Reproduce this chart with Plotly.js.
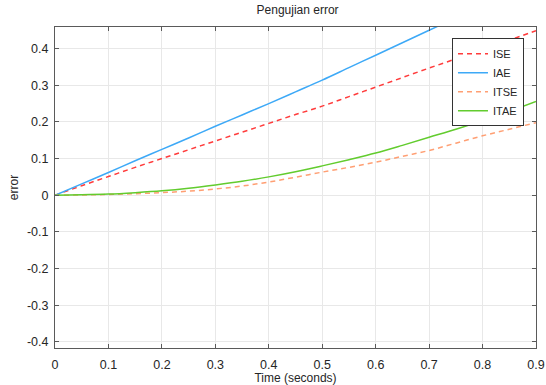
<!DOCTYPE html>
<html>
<head>
<meta charset="utf-8">
<script src="https://cdn.plot.ly/plotly-3.0.1.min.js"></script>
<style>html,body{margin:0;padding:0;background:#fff;}#chart{width:546px;height:385px;}</style>
</head>
<body>
<div id="chart"></div>
<script>
const time = [0, 0.05, 0.1, 0.15, 0.2, 0.25, 0.3, 0.35, 0.4, 0.45, 0.5, 0.55, 0.6, 0.65, 0.7, 0.75, 0.8, 0.85, 0.9];
const ise  = [0, 0.026, 0.051, 0.076, 0.100, 0.124, 0.148, 0.172, 0.196, 0.220, 0.243, 0.269, 0.295, 0.321, 0.347, 0.372, 0.398, 0.423, 0.449];
const iae  = [0, 0.031, 0.062, 0.094, 0.125, 0.156, 0.188, 0.219, 0.250, 0.282, 0.314, 0.348, 0.382, 0.416, 0.450, 0.484, 0.518, 0.552, 0.586];
const itse = [0, 0.0005, 0.002, 0.004, 0.007, 0.011, 0.017, 0.025, 0.036, 0.049, 0.063, 0.076, 0.090, 0.106, 0.122, 0.142, 0.162, 0.180, 0.198];
const itae = [0, 0.001, 0.003, 0.007, 0.012, 0.019, 0.028, 0.038, 0.050, 0.064, 0.080, 0.097, 0.115, 0.136, 0.158, 0.180, 0.204, 0.229, 0.256];

const names = ['ISE', 'IAE', 'ITSE', 'ITAE'];
const series = [ise, iae, itse, itae];
const colors = ['#FF3B3B', '#3DA9F7', '#FF9F73', '#62CC2E'];
const dashes = ['5px,4px', 'solid', '5px,4px', 'solid'];

const xTicks = [0, 0.1, 0.2, 0.3, 0.4, 0.5, 0.6, 0.7, 0.8, 0.9];
const xTickText = ['0', '0.1', '0.2', '0.3', '0.4', '0.5', '0.6', '0.7', '0.8', '0.9'];
const yTicks = [-0.4, -0.3, -0.2, -0.1, 0, 0.1, 0.2, 0.3, 0.4];
const yTickText = ['-0.4', '-0.3', '-0.2', '-0.1', '0', '0.1', '0.2', '0.3', '0.4'];

const traces = names.map((n, i) => ({
  x: time, y: series[i], name: n, type: 'scatter', mode: 'lines',
  line: {color: colors[i], width: 1.5, dash: dashes[i], shape: 'spline'}
}));

const FONT = 'Liberation Sans, Arial, sans-serif';
const axisCommon = {
  showline: true, linecolor: '#5a5a5a', linewidth: 1, mirror: 'ticks',
  ticks: 'inside', ticklen: 4, tickcolor: '#5a5a5a', tickwidth: 1,
  showgrid: true, gridcolor: '#e8e8e8', gridwidth: 1, zeroline: false,
  tickfont: {family: FONT, size: 12.5, color: '#262626'}
};

const layout = {
  width: 546, height: 385,
  margin: {l: 55, r: 10, t: 27, b: 37},
  paper_bgcolor: '#fff', plot_bgcolor: '#fff',
  title: {text: 'Pengujian error', x: 0.545, xanchor: 'center', y: 0.985, yanchor: 'top',
    font: {family: FONT, size: 12, color: '#262626'}},
  xaxis: Object.assign({}, axisCommon, {
    range: [0, 0.9], tickvals: xTicks, ticktext: xTickText,
    ticklabelstandoff: 5,
    title: {text: 'Time (seconds)', standoff: 3, font: {family: FONT, size: 12, color: '#262626'}}
  }),
  yaxis: Object.assign({}, axisCommon, {
    range: [-0.417, 0.459], tickvals: yTicks, ticktext: yTickText,
    ticklabelstandoff: 3,
    title: {text: 'error', standoff: 5, font: {family: FONT, size: 12, color: '#262626'}}
  }),
  showlegend: true,
  legend: {x: 0.975, xanchor: 'right', y: 0.965, yanchor: 'top',
    bgcolor: '#fff', bordercolor: '#333', borderwidth: 1,
    font: {family: FONT, size: 11, color: '#262626'},
    tracegroupgap: 0, itemwidth: 30}
};

Plotly.newPlot('chart', traces, layout, {displayModeBar: false, staticPlot: true});
</script>
</body>
</html>
